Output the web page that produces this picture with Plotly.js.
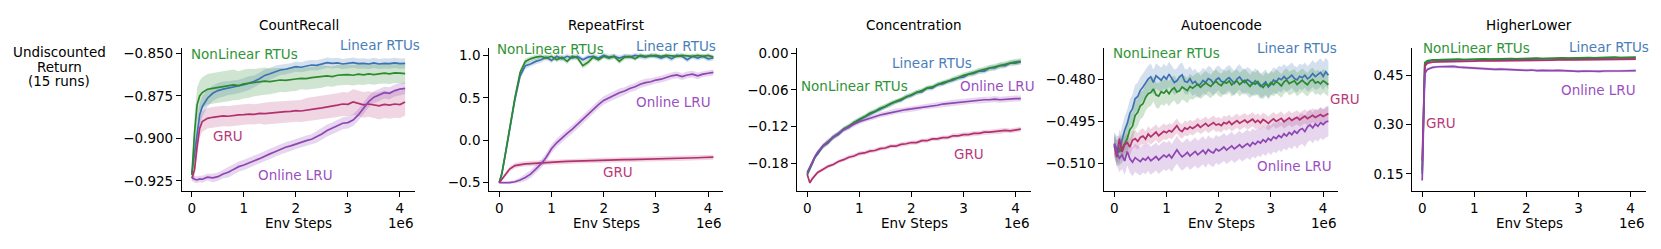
<!DOCTYPE html>
<html>
<head>
<meta charset="utf-8">
<script src="https://cdn.plot.ly/plotly-3.0.1.min.js"></script>
<style>html,body{margin:0;padding:0;background:#fff;}#chart{width:1661px;height:249px;}</style>
</head>
<body>
<div id="chart"></div>
<script>
// ---------------- DATA ----------------
// Env steps (millions)
const X_COARSE = [0,0.05,0.1,0.15,0.2,0.3,0.4,0.5,0.6,0.7,0.8,0.9,1.0,1.1,1.2,1.3,1.4,1.5,1.6,1.7,1.8,1.9,2.0,2.1,2.2,2.3,2.4,2.5,2.6,2.7,2.8,2.9,3.0,3.1,3.2,3.3,3.4,3.5,3.6,3.7,3.8,3.9,4.0,4.1];
const X_FINE = [0,0.05,0.1,0.15,0.2,0.25,0.3,0.35,0.4,0.45,
  0.5,0.55,0.6,0.65,0.7,0.75,0.8,0.85,0.9,0.95,
  1.0,1.05,1.1,1.15,1.2,1.25,1.3,1.35,1.4,1.45,
  1.5,1.55,1.6,1.65,1.7,1.75,1.8,1.85,1.9,1.95,
  2.0,2.05,2.1,2.15,2.2,2.25,2.3,2.35,2.4,2.45,
  2.5,2.55,2.6,2.65,2.7,2.75,2.8,2.85,2.9,2.95,
  3.0,3.05,3.1,3.15,3.2,3.25,3.3,3.35,3.4,3.45,
  3.5,3.55,3.6,3.65,3.7,3.75,3.8,3.85,3.9,3.95,
  4.0,4.05,4.1];

const SERIES_NAMES = ['Linear RTUs','NonLinear RTUs','GRU','Online LRU'];
const PANEL_TITLES = ['CountRecall','RepeatFirst','Concentration','Autoencode','HigherLower'];
const X_TICKS = [0,1,2,3,4];
const X_TICK_LABELS = ['0','1','2','3','4'];

// CountRecall
const CR_LIN = [-0.9205,-0.9087,-0.8970,-0.8862,-0.8813,-0.8764,-0.8735,-0.8719,-0.8711,-0.8705,-0.8700,-0.8695,-0.8685,-0.8675,-0.8665,-0.8650,-0.8630,-0.8620,-0.8608,-0.8598,-0.8594,-0.8588,-0.8578,-0.8582,-0.8574,-0.8569,-0.8571,-0.8563,-0.8555,-0.8559,-0.8557,-0.8563,-0.8559,-0.8555,-0.8561,-0.8559,-0.8563,-0.8557,-0.8563,-0.8559,-0.8561,-0.8557,-0.8561,-0.8559];
const CR_NL  = [-0.9215,-0.8970,-0.8803,-0.8751,-0.8731,-0.8711,-0.8706,-0.8700,-0.8696,-0.8692,-0.8686,-0.8690,-0.8680,-0.8676,-0.8672,-0.8668,-0.8664,-0.8666,-0.8661,-0.8657,-0.8659,-0.8653,-0.8651,-0.8647,-0.8649,-0.8643,-0.8641,-0.8637,-0.8633,-0.8637,-0.8629,-0.8627,-0.8625,-0.8629,-0.8623,-0.8627,-0.8621,-0.8625,-0.8619,-0.8617,-0.8621,-0.8615,-0.8617,-0.8619];
const CR_GRU = [-0.9234,-0.9185,-0.9048,-0.8941,-0.8901,-0.8882,-0.8876,-0.8872,-0.8868,-0.8870,-0.8864,-0.8862,-0.8860,-0.8857,-0.8859,-0.8853,-0.8855,-0.8851,-0.8849,-0.8845,-0.8843,-0.8841,-0.8837,-0.8839,-0.8833,-0.8829,-0.8825,-0.8821,-0.8817,-0.8809,-0.8805,-0.8798,-0.8800,-0.8786,-0.8794,-0.8803,-0.8798,-0.8805,-0.8809,-0.8800,-0.8805,-0.8798,-0.8801,-0.8786];
const CR_LRU = [-0.9228,-0.9240,-0.9244,-0.9238,-0.9240,-0.9228,-0.9232,-0.9225,-0.9209,-0.9199,-0.9182,-0.9166,-0.9156,-0.9142,-0.9131,-0.9119,-0.9103,-0.9091,-0.9078,-0.9064,-0.9052,-0.9044,-0.9033,-0.9025,-0.9013,-0.9005,-0.8990,-0.8974,-0.8954,-0.8941,-0.8927,-0.8911,-0.8907,-0.8892,-0.8862,-0.8823,-0.8784,-0.8758,-0.8745,-0.8731,-0.8735,-0.8719,-0.8711,-0.8706];
const CR_LIN_SE = [0.002,0.006,0.008,0.007,0.006,0.005,0.0045,0.0045,0.0045,0.004,0.004,0.004,0.004,0.004,0.0035,0.0035,0.0035,0.0035,0.0035,0.003,0.003,0.003,0.003,0.003,0.003,0.003,0.003,0.003,0.003,0.003,0.003,0.003,0.003,0.003,0.003,0.003,0.003,0.003,0.003,0.003,0.003,0.003,0.003,0.003];
const CR_NL_SE  = [0.002,0.010,0.010,0.009,0.009,0.009,0.009,0.009,0.009,0.009,0.009,0.0085,0.0085,0.0085,0.008,0.008,0.008,0.0075,0.0075,0.007,0.007,0.007,0.007,0.0065,0.0065,0.0065,0.0065,0.0065,0.006,0.006,0.006,0.006,0.006,0.006,0.006,0.006,0.006,0.006,0.006,0.006,0.006,0.006,0.006,0.006];
const CR_GRU_SE = [0.002,0.004,0.006,0.006,0.006,0.006,0.006,0.006,0.006,0.006,0.006,0.006,0.006,0.006,0.006,0.006,0.0065,0.0065,0.0065,0.0065,0.0065,0.0065,0.0065,0.0065,0.007,0.007,0.007,0.007,0.007,0.007,0.007,0.007,0.007,0.0075,0.0075,0.0075,0.0075,0.0075,0.008,0.008,0.008,0.008,0.008,0.008];
const CR_LRU_SE = [0.002,0.002,0.002,0.002,0.002,0.002,0.0025,0.0025,0.0025,0.003,0.003,0.003,0.003,0.003,0.003,0.003,0.003,0.003,0.003,0.003,0.003,0.003,0.003,0.003,0.003,0.003,0.0035,0.0035,0.0035,0.0035,0.0035,0.0035,0.0035,0.0035,0.0035,0.0035,0.0035,0.0035,0.0035,0.0035,0.0035,0.0035,0.0035,0.0035];

// RepeatFirst
const RF_LIN = [-0.50,-0.40,-0.23,-0.06,0.12,0.48,0.76,0.88,0.90,0.93,0.95,0.98,0.94,0.99,0.96,0.99,0.97,0.99,0.95,0.98,0.99,0.97,1.0,0.98,0.99,0.97,0.99,0.98,1.0,0.99,0.98,1.0,0.99,0.97,0.99,0.96,1.0,0.99,0.95,0.99,0.97,0.99,0.96,0.97];
const RF_NL  = [-0.50,-0.39,-0.22,-0.04,0.14,0.50,0.80,0.93,0.96,0.98,0.99,0.97,0.99,0.95,0.98,0.93,0.99,0.97,0.88,0.92,0.98,0.95,0.99,0.97,0.99,0.93,0.98,0.99,0.96,1.0,0.99,0.995,1.0,0.99,1.0,0.995,0.99,1.0,0.995,0.99,1.0,0.99,1.0,0.98];
const RF_GRU = [-0.50,-0.46,-0.42,-0.38,-0.34,-0.30,-0.285,-0.278,-0.275,-0.27,-0.266,-0.262,-0.259,-0.255,-0.253,-0.25,-0.249,-0.246,-0.245,-0.242,-0.241,-0.238,-0.237,-0.234,-0.233,-0.231,-0.230,-0.228,-0.227,-0.225,-0.224,-0.222,-0.221,-0.218,-0.218,-0.215,-0.214,-0.212,-0.211,-0.208,-0.207,-0.204,-0.203,-0.20];
const RF_LRU = [-0.50,-0.50,-0.505,-0.505,-0.50,-0.49,-0.47,-0.44,-0.40,-0.34,-0.28,-0.20,-0.10,-0.03,0.03,0.08,0.13,0.19,0.25,0.30,0.36,0.42,0.47,0.50,0.53,0.56,0.58,0.61,0.63,0.66,0.68,0.69,0.71,0.72,0.74,0.76,0.77,0.75,0.77,0.78,0.76,0.78,0.79,0.80];
const RF_LIN_SE = [0.01,0.03,0.04,0.04,0.04,0.04,0.04,0.04,0.035,0.035,0.035,0.03,0.03,0.03,0.03,0.03,0.03,0.03,0.03,0.03,0.03,0.03,0.03,0.03,0.03,0.03,0.03,0.03,0.03,0.03,0.03,0.03,0.03,0.03,0.03,0.03,0.03,0.03,0.03,0.03,0.03,0.03,0.03,0.03];
const RF_NL_SE  = [0.01,0.03,0.04,0.04,0.04,0.04,0.04,0.035,0.03,0.03,0.03,0.03,0.03,0.03,0.03,0.03,0.03,0.03,0.035,0.035,0.03,0.03,0.03,0.03,0.03,0.03,0.03,0.025,0.025,0.025,0.025,0.025,0.025,0.025,0.025,0.025,0.025,0.025,0.025,0.025,0.025,0.025,0.025,0.025];
const RF_GRU_SE = [0.01,0.02,0.025,0.03,0.03,0.03,0.03,0.03,0.03,0.03,0.03,0.03,0.03,0.03,0.03,0.03,0.03,0.03,0.03,0.03,0.03,0.03,0.03,0.03,0.03,0.03,0.03,0.03,0.03,0.03,0.03,0.03,0.03,0.03,0.03,0.03,0.03,0.03,0.03,0.03,0.03,0.03,0.03,0.03];
const RF_LRU_SE = [0.01,0.01,0.01,0.01,0.015,0.02,0.03,0.04,0.045,0.05,0.05,0.05,0.05,0.05,0.05,0.05,0.05,0.05,0.05,0.05,0.05,0.05,0.05,0.05,0.05,0.05,0.045,0.045,0.045,0.045,0.045,0.04,0.04,0.04,0.04,0.04,0.04,0.04,0.04,0.04,0.04,0.035,0.035,0.035];

// Concentration
const CO_LIN = [-0.199,-0.188,-0.180,-0.170,-0.165,-0.152,-0.147,-0.137,-0.133,-0.124,-0.121,-0.113,-0.110,-0.104,-0.100,-0.095,-0.092,-0.087,-0.084,-0.079,-0.077,-0.071,-0.069,-0.064,-0.063,-0.057,-0.057,-0.051,-0.050,-0.046,-0.044,-0.040,-0.039,-0.034,-0.033,-0.029,-0.029,-0.024,-0.024,-0.020,-0.020,-0.016,-0.016,-0.014];
const CO_NL  = [-0.197,-0.187,-0.178,-0.169,-0.163,-0.152,-0.145,-0.137,-0.131,-0.124,-0.119,-0.113,-0.108,-0.104,-0.098,-0.095,-0.090,-0.087,-0.082,-0.079,-0.075,-0.071,-0.067,-0.064,-0.061,-0.057,-0.055,-0.051,-0.048,-0.046,-0.042,-0.040,-0.036,-0.034,-0.031,-0.029,-0.026,-0.024,-0.022,-0.020,-0.018,-0.015,-0.014,-0.013];
const CO_GRU = [-0.198,-0.212,-0.205,-0.199,-0.195,-0.190,-0.185,-0.182,-0.177,-0.174,-0.170,-0.168,-0.164,-0.163,-0.160,-0.159,-0.156,-0.155,-0.152,-0.152,-0.149,-0.148,-0.146,-0.146,-0.143,-0.143,-0.140,-0.140,-0.138,-0.138,-0.135,-0.135,-0.133,-0.133,-0.131,-0.131,-0.129,-0.129,-0.128,-0.128,-0.126,-0.127,-0.125,-0.124];
const CO_LRU = [-0.195,-0.186,-0.177,-0.169,-0.162,-0.152,-0.144,-0.137,-0.131,-0.125,-0.120,-0.116,-0.112,-0.109,-0.106,-0.104,-0.101,-0.099,-0.097,-0.095,-0.094,-0.092,-0.091,-0.090,-0.088,-0.087,-0.086,-0.085,-0.083,-0.082,-0.081,-0.080,-0.079,-0.078,-0.077,-0.077,-0.076,-0.076,-0.075,-0.076,-0.075,-0.075,-0.074,-0.074];
const CO_LIN_SE = [0.003,0.004,0.004,0.004,0.004,0.004,0.004,0.004,0.004,0.004,0.004,0.004,0.004,0.004,0.004,0.004,0.004,0.004,0.004,0.004,0.004,0.004,0.004,0.004,0.004,0.004,0.004,0.004,0.004,0.004,0.004,0.004,0.004,0.004,0.0045,0.0045,0.0045,0.0045,0.0045,0.0045,0.0045,0.0045,0.0045,0.0045];
const CO_NL_SE  = [0.003,0.004,0.004,0.004,0.004,0.004,0.004,0.004,0.004,0.004,0.004,0.004,0.004,0.004,0.004,0.004,0.004,0.004,0.004,0.004,0.004,0.004,0.004,0.004,0.004,0.004,0.004,0.004,0.004,0.004,0.004,0.0045,0.0045,0.0045,0.0045,0.0045,0.0045,0.005,0.005,0.005,0.005,0.005,0.005,0.005];
const CO_GRU_SE = [0.003,0.003,0.003,0.003,0.003,0.003,0.003,0.003,0.003,0.003,0.0035,0.0035,0.0035,0.0035,0.0035,0.0035,0.0035,0.0035,0.0035,0.0035,0.0035,0.0035,0.0035,0.0035,0.0035,0.0035,0.0035,0.0035,0.0035,0.0035,0.004,0.004,0.004,0.004,0.004,0.004,0.004,0.004,0.004,0.004,0.004,0.004,0.004,0.004];
const CO_LRU_SE = [0.003,0.004,0.004,0.004,0.004,0.004,0.004,0.004,0.004,0.004,0.004,0.004,0.004,0.004,0.004,0.004,0.004,0.004,0.0045,0.0045,0.0045,0.0045,0.0045,0.0045,0.0045,0.0045,0.0045,0.0045,0.0045,0.0045,0.005,0.005,0.005,0.005,0.005,0.005,0.005,0.005,0.005,0.005,0.005,0.005,0.005,0.005];

// Autoencode (finer sampling)
const AE_LIN = [-0.5030,-0.5048,-0.5052,-0.5012,-0.4982,-0.4958,-0.4922,-0.4905,-0.4870,-0.4862,
  -0.4840,-0.4828,-0.4815,-0.4800,-0.4792,-0.4812,-0.4788,-0.4796,-0.4804,-0.4790,
  -0.4800,-0.4782,-0.4795,-0.4812,-0.4806,-0.4792,-0.4785,-0.4808,-0.4811,-0.4798,
  -0.4815,-0.4808,-0.4822,-0.4818,-0.4805,-0.4812,-0.4798,-0.4803,-0.4816,-0.4802,
  -0.4796,-0.4808,-0.4812,-0.4801,-0.4795,-0.4806,-0.4815,-0.4800,-0.4792,-0.4805,
  -0.4812,-0.4802,-0.4808,-0.4818,-0.4806,-0.4815,-0.4826,-0.4819,-0.4810,-0.4828,
  -0.4818,-0.4803,-0.4810,-0.4797,-0.4802,-0.4791,-0.4800,-0.4794,-0.4786,-0.4798,
  -0.4803,-0.4790,-0.4795,-0.4786,-0.4799,-0.4792,-0.4780,-0.4791,-0.4785,-0.4776,
  -0.4790,-0.4774,-0.4786];
const AE_NL = [-0.5040,-0.5063,-0.5058,-0.5048,-0.5030,-0.5012,-0.4980,-0.4968,-0.4930,-0.4918,
  -0.4895,-0.4888,-0.4866,-0.4852,-0.4848,-0.4835,-0.4856,-0.4861,-0.4845,-0.4850,
  -0.4840,-0.4852,-0.4838,-0.4831,-0.4846,-0.4842,-0.4828,-0.4833,-0.4841,-0.4826,
  -0.4832,-0.4825,-0.4818,-0.4829,-0.4822,-0.4813,-0.4820,-0.4826,-0.4814,-0.4808,
  -0.4818,-0.4823,-0.4810,-0.4815,-0.4806,-0.4821,-0.4812,-0.4807,-0.4819,-0.4811,
  -0.4804,-0.4816,-0.4826,-0.4813,-0.4818,-0.4809,-0.4822,-0.4830,-0.4817,-0.4824,
  -0.4812,-0.4820,-0.4808,-0.4815,-0.4824,-0.4810,-0.4803,-0.4816,-0.4812,-0.4806,
  -0.4819,-0.4811,-0.4804,-0.4813,-0.4820,-0.4807,-0.4801,-0.4814,-0.4809,-0.4817,
  -0.4806,-0.4812,-0.4820];
const AE_GRU = [-0.5035,-0.5078,-0.5012,-0.5060,-0.5034,-0.5026,-0.5042,-0.5018,-0.5012,-0.5022,
  -0.5008,-0.5003,-0.5014,-0.4996,-0.5006,-0.4998,-0.4989,-0.5002,-0.4994,-0.4986,
  -0.4991,-0.4983,-0.4988,-0.4978,-0.4966,-0.4981,-0.4987,-0.4974,-0.4979,-0.4970,
  -0.4976,-0.4970,-0.4962,-0.4972,-0.4966,-0.4958,-0.4968,-0.4963,-0.4955,-0.4964,
  -0.4960,-0.4966,-0.4955,-0.4959,-0.4951,-0.4962,-0.4956,-0.4948,-0.4957,-0.4952,
  -0.4946,-0.4955,-0.4950,-0.4943,-0.4954,-0.4947,-0.4956,-0.4944,-0.4950,-0.4958,
  -0.4949,-0.4942,-0.4951,-0.4946,-0.4940,-0.4952,-0.4944,-0.4938,-0.4947,-0.4941,
  -0.4936,-0.4945,-0.4939,-0.4932,-0.4941,-0.4935,-0.4929,-0.4937,-0.4931,-0.4926,
  -0.4933,-0.4927,-0.4923];
const AE_LRU = [-0.5030,-0.5064,-0.5082,-0.5070,-0.5092,-0.5058,-0.5084,-0.5096,-0.5080,-0.5088,
  -0.5094,-0.5083,-0.5089,-0.5078,-0.5091,-0.5084,-0.5076,-0.5088,-0.5079,-0.5071,
  -0.5078,-0.5069,-0.5081,-0.5064,-0.5052,-0.5066,-0.5077,-0.5070,-0.5061,-0.5074,
  -0.5066,-0.5058,-0.5070,-0.5062,-0.5054,-0.5066,-0.5051,-0.5059,-0.5063,-0.5049,
  -0.5056,-0.5050,-0.5042,-0.5053,-0.5046,-0.5038,-0.5049,-0.5041,-0.5034,-0.5044,
  -0.5037,-0.5030,-0.5039,-0.5026,-0.5033,-0.5022,-0.5028,-0.5016,-0.5024,-0.5011,
  -0.5019,-0.5006,-0.5012,-0.5001,-0.5008,-0.4995,-0.5003,-0.4990,-0.4998,-0.4985,
  -0.4993,-0.4981,-0.4976,-0.4987,-0.4970,-0.4963,-0.4974,-0.4960,-0.4968,-0.4955,
  -0.4962,-0.4953,-0.4950];
const AE_LIN_SE = [0.004,0.0045,0.005,0.005,0.005,0.005,0.005,0.005,0.005,0.005,
  0.0048,0.0048,0.0048,0.0048,0.0048,0.0045,0.0045,0.0045,0.0045,0.0045,
  0.0045,0.0045,0.0045,0.0045,0.0045,0.0045,0.0045,0.0045,0.0045,0.0045,
  0.0045,0.0045,0.0045,0.0045,0.0045,0.0045,0.0045,0.0045,0.0045,0.0045,
  0.0045,0.0045,0.0045,0.0045,0.0045,0.0045,0.0045,0.0045,0.0045,0.0045,
  0.0045,0.0045,0.0045,0.0045,0.0045,0.0045,0.0045,0.0045,0.0045,0.0045,
  0.0045,0.0045,0.0045,0.0045,0.0045,0.0045,0.0045,0.0045,0.0045,0.0045,
  0.0045,0.0045,0.0045,0.0045,0.0045,0.0048,0.0048,0.0048,0.005,0.005,
  0.005,0.005,0.005];
const AE_NL_SE = [0.004,0.0045,0.005,0.005,0.005,0.005,0.005,0.005,0.005,0.005,
  0.0048,0.0048,0.0048,0.0048,0.0048,0.0045,0.0045,0.0045,0.0045,0.0045,
  0.0045,0.0045,0.0045,0.0045,0.0045,0.0045,0.0045,0.0045,0.0045,0.0045,
  0.0042,0.0042,0.0042,0.0042,0.0042,0.0042,0.0042,0.0042,0.0042,0.0042,
  0.0042,0.0042,0.0042,0.0042,0.0042,0.0042,0.0042,0.0042,0.0042,0.0042,
  0.0042,0.0042,0.0042,0.0042,0.0042,0.0042,0.0042,0.0042,0.0042,0.0042,
  0.0042,0.0042,0.0042,0.0042,0.0042,0.0042,0.0042,0.0042,0.0042,0.0042,
  0.0042,0.0042,0.0042,0.0042,0.0042,0.0042,0.0042,0.0042,0.0042,0.0042,
  0.0042,0.0042,0.0042];
const AE_GRU_SE = [0.003,0.0035,0.0035,0.0035,0.003,0.003,0.003,0.003,0.003,0.003,
  0.0028,0.0028,0.0028,0.0028,0.0028,0.0028,0.0028,0.0028,0.0028,0.0028,
  0.0026,0.0026,0.0026,0.0026,0.0026,0.0026,0.0026,0.0026,0.0026,0.0026,
  0.0025,0.0025,0.0025,0.0025,0.0025,0.0025,0.0025,0.0025,0.0025,0.0025,
  0.0025,0.0025,0.0025,0.0025,0.0025,0.0025,0.0025,0.0025,0.0025,0.0025,
  0.0025,0.0025,0.0025,0.0025,0.0025,0.0025,0.0025,0.0025,0.0025,0.0025,
  0.0025,0.0025,0.0025,0.0025,0.0025,0.0025,0.0025,0.0025,0.0025,0.0025,
  0.0025,0.0025,0.0025,0.0025,0.0025,0.0025,0.0025,0.0025,0.0025,0.0025,
  0.0025,0.0025,0.0025];
const AE_LRU_SE = [0.004,0.0045,0.005,0.005,0.005,0.005,0.005,0.005,0.005,0.005,
  0.005,0.005,0.005,0.005,0.005,0.005,0.005,0.005,0.005,0.005,
  0.005,0.005,0.005,0.005,0.005,0.005,0.005,0.005,0.005,0.005,
  0.005,0.005,0.005,0.005,0.005,0.005,0.005,0.005,0.005,0.005,
  0.005,0.005,0.005,0.005,0.005,0.005,0.005,0.005,0.005,0.005,
  0.005,0.005,0.005,0.005,0.005,0.005,0.005,0.005,0.005,0.005,
  0.0052,0.0052,0.0052,0.0052,0.0052,0.0052,0.0052,0.0052,0.0052,0.0052,
  0.0055,0.0055,0.0055,0.0055,0.0055,0.0055,0.0055,0.0055,0.0055,0.0055,
  0.0055,0.0055,0.0055];

// HigherLower
const HL_LIN = [0.15,0.484,0.492,0.494,0.495,0.495,0.496,0.496,0.496,0.497,0.497,0.497,0.497,0.498,0.497,0.498,0.498,0.498,0.499,0.498,0.499,0.499,0.499,0.499,0.500,0.499,0.500,0.500,0.500,0.501,0.500,0.501,0.501,0.501,0.502,0.501,0.502,0.502,0.502,0.503,0.502,0.503,0.503,0.503];
const HL_NL  = [0.16,0.488,0.494,0.496,0.497,0.497,0.498,0.497,0.498,0.499,0.498,0.499,0.499,0.499,0.500,0.499,0.500,0.500,0.500,0.501,0.500,0.501,0.501,0.501,0.502,0.501,0.502,0.502,0.502,0.503,0.502,0.503,0.503,0.503,0.504,0.503,0.504,0.504,0.504,0.505,0.504,0.505,0.505,0.505];
const HL_GRU = [0.19,0.478,0.487,0.489,0.490,0.491,0.491,0.492,0.492,0.492,0.493,0.493,0.493,0.494,0.493,0.494,0.494,0.494,0.495,0.494,0.495,0.495,0.495,0.496,0.495,0.496,0.496,0.496,0.497,0.496,0.497,0.497,0.497,0.497,0.498,0.497,0.498,0.498,0.498,0.498,0.499,0.498,0.499,0.499];
const HL_LRU = [0.13,0.455,0.468,0.472,0.474,0.476,0.477,0.478,0.477,0.475,0.474,0.472,0.471,0.471,0.470,0.469,0.468,0.469,0.468,0.468,0.467,0.466,0.465,0.466,0.464,0.465,0.464,0.464,0.465,0.464,0.463,0.464,0.462,0.463,0.462,0.463,0.462,0.463,0.462,0.463,0.463,0.464,0.463,0.464];
const HL_LIN_SE = [0.02,0.006,0.004,0.003,0.003,0.003,0.003,0.003,0.003,0.003,0.003,0.003,0.003,0.003,0.003,0.003,0.003,0.003,0.003,0.003,0.003,0.003,0.003,0.003,0.003,0.003,0.003,0.003,0.003,0.003,0.003,0.003,0.003,0.003,0.003,0.003,0.003,0.003,0.003,0.003,0.003,0.003,0.003,0.003];
const HL_NL_SE  = [0.02,0.006,0.004,0.003,0.003,0.003,0.003,0.003,0.003,0.003,0.003,0.003,0.003,0.003,0.003,0.003,0.003,0.003,0.003,0.003,0.003,0.003,0.003,0.003,0.003,0.003,0.003,0.003,0.003,0.003,0.003,0.003,0.003,0.003,0.003,0.003,0.003,0.003,0.003,0.003,0.003,0.003,0.003,0.003];
const HL_GRU_SE = [0.03,0.008,0.004,0.003,0.003,0.003,0.003,0.003,0.003,0.003,0.003,0.003,0.003,0.003,0.003,0.003,0.003,0.003,0.003,0.003,0.003,0.003,0.003,0.003,0.003,0.003,0.003,0.003,0.003,0.003,0.003,0.003,0.003,0.003,0.003,0.003,0.003,0.003,0.003,0.003,0.003,0.003,0.003,0.003];
const HL_LRU_SE = [0.02,0.008,0.005,0.004,0.004,0.004,0.004,0.004,0.004,0.004,0.004,0.004,0.004,0.004,0.004,0.004,0.004,0.004,0.004,0.004,0.004,0.004,0.004,0.004,0.004,0.004,0.004,0.004,0.004,0.004,0.004,0.004,0.004,0.004,0.004,0.004,0.004,0.004,0.004,0.004,0.004,0.004,0.004,0.004];

// Y tick values
const CR_TICKS = [-0.925,-0.900,-0.875,-0.850];
const RF_TICKS = [-0.5,0.0,0.5,1.0];
const CO_TICKS = [-0.18,-0.12,-0.06,0.00];
const AE_TICKS = [-0.510,-0.495,-0.480];
const HL_TICKS = [0.15,0.30,0.45];

// ---------------- STYLE / LAYOUT ----------------
const W = 1661, H = 249;
const FONT = 'DejaVu Sans';
const FS = 13.5;
const COLORS = ['#3d72b2','#2b8a2e','#b2306f','#8f45b3'];
const BAND = ['rgba(61,114,178,0.22)','rgba(43,138,46,0.22)','rgba(178,48,111,0.20)','rgba(143,69,179,0.22)'];
const TEXTCOL = ['#4a7eb9','#2f9436','#b8387a','#9a4fc0'];

// label anchor positions in pixels [left x, middle y], order: Linear, NonLinear, GRU, Online LRU
const PANELS = [
  {x: X_COARSE, ys:[CR_LIN,CR_NL,CR_GRU,CR_LRU], se:[CR_LIN_SE,CR_NL_SE,CR_GRU_SE,CR_LRU_SE],
   px:[182,415], yr:[-0.9309,-0.8469], ticks:CR_TICKS, fmt:'.3f',
   lab:[[339,45],[190,54],[212,136],[257,175]]},
  {x: X_COARSE, ys:[RF_LIN,RF_NL,RF_GRU,RF_LRU], se:[RF_LIN_SE,RF_NL_SE,RF_GRU_SE,RF_LRU_SE],
   px:[489.3,723.3], yr:[-0.599,1.088], ticks:RF_TICKS, fmt:'.1f',
   lab:[[635,45.7],[496,49],[601.7,171.7],[635,101.7]]},
  {x: X_COARSE, ys:[CO_LIN,CO_NL,CO_GRU,CO_LRU], se:[CO_LIN_SE,CO_NL_SE,CO_GRU_SE,CO_LRU_SE],
   px:[797.3,1030.7], yr:[-0.2253,0.0087], ticks:CO_TICKS, fmt:'.2f',
   lab:[[891,63.3],[800,85.7],[952.7,154],[959.3,86]]},
  {x: X_FINE, ys:[AE_LIN,AE_NL,AE_GRU,AE_LRU], se:[AE_LIN_SE,AE_NL_SE,AE_GRU_SE,AE_LRU_SE],
   px:[1104.3,1338.3], yr:[-0.5199,-0.4689], ticks:AE_TICKS, fmt:'.3f',
   lab:[[1256,47.7],[1111.7,52.7],[1329.3,99.3],[1256,165.7]]},
  {x: X_COARSE, ys:[HL_LIN,HL_NL,HL_GRU,HL_LRU], se:[HL_LIN_SE,HL_NL_SE,HL_GRU_SE,HL_LRU_SE],
   px:[1412.3,1645.7], yr:[0.098,0.533], ticks:HL_TICKS, fmt:'.2f',
   lab:[[1567.7,46.7],[1422.3,47.7],[1425,123.3],[1560,90]]}
];
const Y_TOP = 48, Y_BOT = 191;

const traces = [];
const annotations = [];
const layout = {
  width: W, height: H,
  margin: {l:0, r:0, t:0, b:0},
  paper_bgcolor: '#fff', plot_bgcolor: 'rgba(0,0,0,0)',
  showlegend: false,
  font: {family: FONT, size: FS, color: '#000'},
  annotations: annotations
};

PANELS.forEach((p, k) => {
  const n = k === 0 ? '' : String(k + 1);
  const xa = 'x' + n, ya = 'y' + n;
  layout['xaxis' + n] = {
    domain: [p.px[0] / W, p.px[1] / W], anchor: ya,
    range: [-0.19, 4.29], tickvals: X_TICKS, ticktext: X_TICK_LABELS,
    ticks: 'outside', ticklen: 5, tickwidth: 1, tickcolor: '#000',
    showline: true, linecolor: '#000', linewidth: 1.1, mirror: false,
    showgrid: false, zeroline: false, fixedrange: true,
    tickfont: {family: FONT, size: FS, color: '#000'}
  };
  layout['yaxis' + n] = {
    domain: [1 - Y_BOT / H, 1 - Y_TOP / H], anchor: xa,
    range: p.yr, tickvals: p.ticks, tickformat: p.fmt,
    ticks: 'outside', ticklen: 5, tickwidth: 1, tickcolor: '#000',
    showline: true, linecolor: '#000', linewidth: 1.1, mirror: false,
    showgrid: false, zeroline: false, fixedrange: true,
    tickfont: {family: FONT, size: FS, color: '#000'}
  };
  // bands
  p.ys.forEach((y, s) => {
    const up = y.map((v, i) => v + p.se[s][i]);
    const lo = y.map((v, i) => v - p.se[s][i]);
    traces.push({
      x: p.x.concat(p.x.slice().reverse()),
      y: up.concat(lo.slice().reverse()),
      xaxis: xa, yaxis: ya, mode: 'lines', fill: 'toself',
      fillcolor: BAND[s], line: {width: 0, color: BAND[s]}, hoverinfo: 'skip'
    });
  });
  // mean lines
  p.ys.forEach((y, s) => {
    traces.push({
      x: p.x, y: y, xaxis: xa, yaxis: ya, mode: 'lines',
      line: {color: COLORS[s], width: 1.7}, name: SERIES_NAMES[s]
    });
  });
  // series labels (paper coordinates so they may sit outside the axes)
  p.lab.forEach((pos, s) => {
    annotations.push({
      xref: 'paper', yref: 'paper', x: pos[0] / W, y: 1 - pos[1] / H, text: SERIES_NAMES[s],
      showarrow: false, xanchor: 'left', yanchor: 'middle', borderpad: 0,
      font: {family: FONT, size: FS, color: TEXTCOL[s]}
    });
  });
  const cx = (p.px[0] + p.px[1]) / 2 / W;
  annotations.push({xref:'paper', yref:'paper', x: cx, y: 1 - 25 / H, text: PANEL_TITLES[k],
    showarrow:false, xanchor:'center', yanchor:'middle', font:{family:FONT, size:FS, color:'#000'}});
  annotations.push({xref:'paper', yref:'paper', x: cx, y: 1 - 223 / H, text: 'Env Steps',
    showarrow:false, xanchor:'center', yanchor:'middle', font:{family:FONT, size:FS, color:'#000'}});
  annotations.push({xref:'paper', yref:'paper', x: p.px[1] / W, y: 1 - 223 / H, text: '1e6',
    showarrow:false, xanchor:'right', yanchor:'middle', font:{family:FONT, size:FS, color:'#000'}});
});

// shared y label
[['Undiscounted', 52], ['Return', 67], ['(15 runs)', 81]].forEach(t => {
  annotations.push({xref:'paper', yref:'paper', x: 59 / W, y: 1 - t[1] / H, text: t[0],
    showarrow:false, xanchor:'center', yanchor:'middle', font:{family:FONT, size:FS, color:'#000'}});
});

Plotly.newPlot('chart', traces, layout, {staticPlot: true, displayModeBar: false});
</script>
</body>
</html>
